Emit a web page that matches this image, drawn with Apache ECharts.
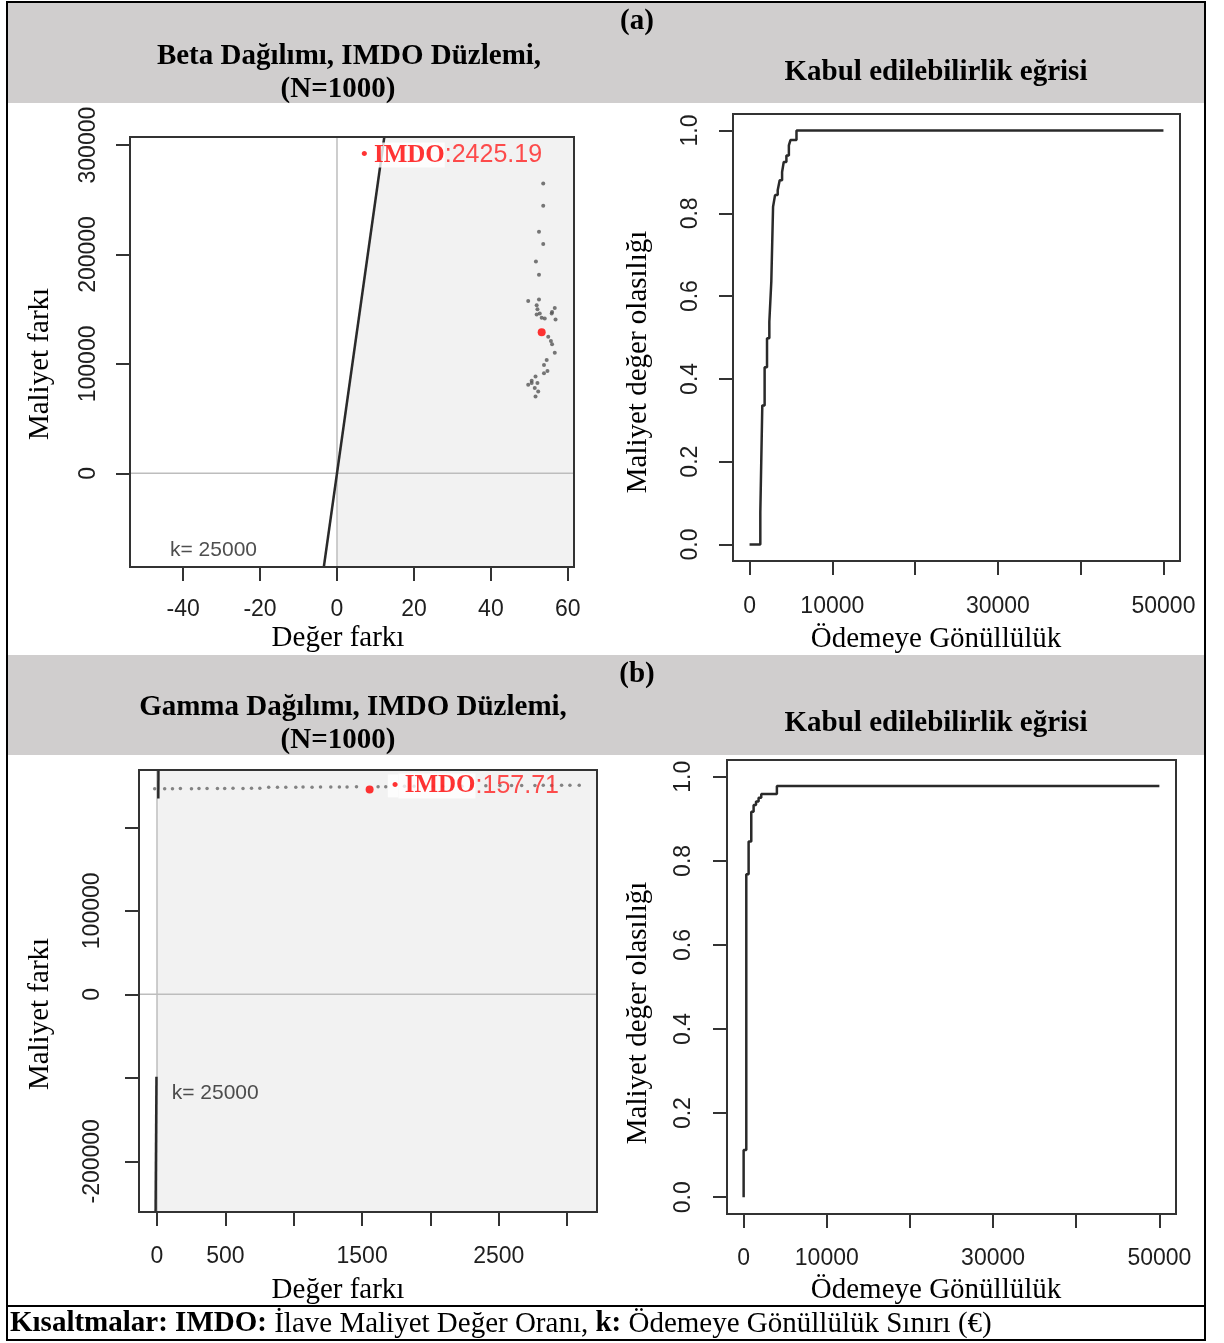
<!DOCTYPE html>
<html><head><meta charset="utf-8">
<script src="https://cdn.jsdelivr.net/npm/echarts@6/dist/echarts.min.js"></script>
<style>html,body{margin:0;padding:0;background:#fff}#c{width:1224px;height:1343px}</style>
</head><body><div id="c"></div>
<script>
const K = 25000; // willingness-to-pay threshold

// (a) Beta distribution, ICER plane: incremental effect / cost
const betaDeltaE = [53.6,53.6,52.5,53.6,51.7,52.5,49.7,52.5,51.9,52.1,52.7,51.9,53.2,54.0,56.6,55.9,56.8,55.8,54.9,55.6,55.9,56.6,54.5,53.8,54.7,53.8,51.6,50.6,49.7,52.1,51.4,52.3,51.6,50.6];
const betaDeltaC = [264800,244500,220900,209700,193600,181500,157500,158800,153600,150000,146100,145200,142100,141500,151200,147500,140600,146100,124800,120900,117900,110300,103600,99100,93600,91500,88500,82500,80900,82500,77900,74800,70300,84500];
const betaMean = [53.2, 129020];
const betaIcerText = '2425.19';

// (a) CEAC
const ceacBetaWtp  = [0,1300,1540,1820,2110,2390,2630,2840,3080,3400,3640,3930,4130,4450,4750,4940,5670,50000];
const ceacBetaProb = [0,0.078,0.336,0.428,0.498,0.538,0.636,0.816,0.844,0.856,0.880,0.900,0.924,0.940,0.964,0.977,1.0,1.0];

// (b) Gamma distribution, ICER plane
const gammaDeltaE = [-17,56,113,171,252,307,366,442,495,556,629,691,752,817,881,942,1015,1068,1134,1196,1271,1334,1390,1459,1617,1673,1810,1880,1950,2020,2090,2160,2230,2300,2405,2508,2593,2667,2764,2825,2886,2959,3020,3088];
const gammaDeltaC = [246000,246200,246100,246300,246200,246400,246300,246500,246400,246600,246500,246700,246600,247800,247900,248000,247900,248100,248000,248200,248100,248300,248200,248400,248500,248600,249000,249100,249000,249200,249100,249300,249200,249400,249800,250000,249900,250100,250000,250200,250100,250300,250200,250400];
const gammaMean = [1555, 245240];
const gammaIcerText = '157.71';

// (b) CEAC
const ceacGammaWtp  = [0,0,320,600,920,1200,1490,1800,2120,4000,50000];
const ceacGammaProb = [0,0.112,0.768,0.846,0.917,0.933,0.941,0.950,0.959,0.978,0.978];

// tick values
const ticksBetaX = [-40,-20,0,20,40,60];
const ticksBetaY = [0,100000,200000,300000];
const ticksCeacX = [0,10000,20000,30000,40000,50000];
const labelsCeacX = [0,10000,30000,50000];
const ticksCeacY = [0,0.2,0.4,0.6,0.8,1.0];
const ticksGammaX = [0,500,1000,1500,2000,2500,3000];
const labelsGammaX = [0,500,1500,2500];
const ticksGammaY = [-200000,-100000,0,100000,200000];
const labelsGammaY = [-200000,0,100000];

// axis extents (plot box)
const rA = {xmin:-53.8, xmax:61.6, ymin:-85650, ymax:307400};
const rB = {xmin:-2000, xmax:52000, ymin:-0.04, ymax:1.04};
const rC = {xmin:-131.7, xmax:3218, ymin:-260700, ymax:268600};
const rD = {xmin:-2000, xmax:52000, ymin:-0.04, ymax:1.04};

const SANS = "'Liberation Sans', Arial, sans-serif";
const SERIF = "'Liberation Serif', 'Times New Roman', serif";
const TICK = '#333';

const chart = echarts.init(document.getElementById('c'), null, {renderer:'canvas'});

function xAx(idx, r, ticks, labels, margin, fmt) {
  return {type:'value', gridIndex:idx, min:r.xmin, max:r.xmax, scale:false,
    axisLine:{show:false, onZero:false}, splitLine:{show:false},
    axisTick:{show:true, inside:false, length:14, customValues:ticks, lineStyle:{color:TICK, width:2}},
    axisLabel:{show:true, customValues:labels, margin:margin, formatter:fmt,
      fontFamily:SANS, fontSize:23, color:'#1e1e1e'}};
}
function yAx(idx, r, ticks, labels, margin, fmt) {
  return {type:'value', gridIndex:idx, min:r.ymin, max:r.ymax, scale:false,
    axisLine:{show:false, onZero:false}, splitLine:{show:false},
    axisTick:{show:true, inside:false, length:14, customValues:ticks, lineStyle:{color:TICK, width:2}},
    axisLabel:{show:true, customValues:labels, margin:margin, formatter:fmt, rotate:90,
      fontFamily:SANS, fontSize:23, color:'#1e1e1e'}};
}
const plain = v => String(Math.round(v));
const oneDec = v => v.toFixed(1);

function region(idx, r) {
  const pts = [[0, r.ymin],[0,0],[r.ymax/K, r.ymax],[r.xmax, r.ymax],[r.xmax, r.ymin]];
  return {type:'custom', xAxisIndex:idx, yAxisIndex:idx, z:1, silent:true, data:[[0,0]],
    renderItem:(p, api) => ({type:'polygon', shape:{points:pts.map(q => api.coord(q))}, style:{fill:'#f2f2f2'}})};
}
function seg(idx, pts, color, width, z) {
  return {type:'line', xAxisIndex:idx, yAxisIndex:idx, data:pts, symbol:'none', silent:true, z:z,
    lineStyle:{color:color, width:width}};
}
function icerLabel(idx, anchor, txt) {
  return {type:'scatter', xAxisIndex:idx, yAxisIndex:idx, data:[anchor], symbolSize:0, z:8, silent:true,
    label:{show:true, position:[0,0], align:'left', verticalAlign:'middle',
      formatter:'{a|•}{b| IMDO}{c|:' + txt + '}',
      rich:{
        a:{color:'#ff0000', fontSize:19, fontFamily:SANS, backgroundColor:'#fff', padding:[2,0,2,4], lineHeight:24},
        b:{color:'#ff0000', fontSize:25, fontWeight:'bold', fontFamily:SERIF, backgroundColor:'#fff', lineHeight:24},
        c:{color:'#ff2020', fontSize:25, fontFamily:SANS, lineHeight:24}
      }}};
}
function kLabel(idx, anchor) {
  return {type:'scatter', xAxisIndex:idx, yAxisIndex:idx, data:[anchor], symbolSize:0, z:8, silent:true,
    label:{show:true, position:[0,0], align:'left', verticalAlign:'middle',
      formatter:'k= ' + K, fontFamily:SANS, fontSize:21, color:'#222'}};
}
function txt(x, y, s, size, bold, rot) {
  return {type:'text', x:x, y:y, rotation: rot ? Math.PI/2 : 0, z:20,
    style:{text:s, fontFamily:SERIF, fontSize:size, fontWeight: bold ? 'bold' : 'normal', fill:'#000',
      align:'center', verticalAlign:'middle'}};
}

const option = {
  animation:false,
  backgroundColor:'#fff',
  grid:[
    {left:130, top:137, width:444, height:430, show:true, borderColor:'#333', borderWidth:2, backgroundColor:'transparent', z:10},
    {left:733, top:114, width:447, height:447, show:true, borderColor:'#333', borderWidth:2, backgroundColor:'transparent', z:10},
    {left:139, top:770, width:458, height:442, show:true, borderColor:'#333', borderWidth:2, backgroundColor:'transparent', z:10},
    {left:727, top:760, width:449, height:454, show:true, borderColor:'#333', borderWidth:2, backgroundColor:'transparent', z:10}
  ],
  xAxis:[
    xAx(0, rA, ticksBetaX, ticksBetaX, 31, plain),
    xAx(1, rB, ticksCeacX, labelsCeacX, 34, plain),
    xAx(2, rC, ticksGammaX, labelsGammaX, 33, plain),
    xAx(3, rD, ticksCeacX, labelsCeacX, 33, plain)
  ],
  yAxis:[
    yAx(0, rA, ticksBetaY, ticksBetaY, 30, plain),
    yAx(1, rB, ticksCeacY, ticksCeacY, 31, oneDec),
    yAx(2, rC, ticksGammaY, labelsGammaY, 35, plain),
    yAx(3, rD, ticksCeacY, ticksCeacY, 32, oneDec)
  ],
  series:[
    // (a) ICER plane
    region(0, rA),
    seg(0, [[0, rA.ymin],[0, rA.ymax]], '#bdbdbd', 1.5, 2),
    seg(0, [[rA.xmin, 0],[rA.xmax, 0]], '#bdbdbd', 1.5, 2),
    seg(0, [[rA.ymin/K, rA.ymin],[rA.ymax/K, rA.ymax]], '#2a2a2a', 2.5, 3),
    {type:'scatter', xAxisIndex:0, yAxisIndex:0, data:betaDeltaE.map((e,i)=>[e, betaDeltaC[i]]), symbolSize:4, itemStyle:{color:'#555'}, z:4, silent:true},
    {type:'scatter', xAxisIndex:0, yAxisIndex:0, data:[betaMean], symbolSize:8, itemStyle:{color:'#ff0000'}, z:5, silent:true},
    icerLabel(0, [5.2, 290900], betaIcerText),
    kLabel(0, [-43.4, -70000]),
    // (a) CEAC
    {type:'line', xAxisIndex:1, yAxisIndex:1, step:'end', data:ceacBetaWtp.map((w,i)=>[w, ceacBetaProb[i]]), symbol:'none', lineStyle:{color:'#2a2a2a', width:2.5}, z:3, silent:true},
    // (b) ICER plane
    region(2, rC),
    seg(2, [[0, rC.ymin],[0, rC.ymax]], '#bdbdbd', 1.5, 2),
    seg(2, [[rC.xmin, 0],[rC.xmax, 0]], '#bdbdbd', 1.5, 2),
    seg(2, [[rC.ymin/K, rC.ymin],[-98700/K, -98700]], '#2a2a2a', 2.5, 3),
    seg(2, [[234600/K, 234600],[rC.ymax/K, rC.ymax]], '#2a2a2a', 2.5, 3),
    {type:'scatter', xAxisIndex:2, yAxisIndex:2, data:gammaDeltaE.map((e,i)=>[e, gammaDeltaC[i]]), symbolSize:3.5, itemStyle:{color:'#666'}, z:4, silent:true},
    {type:'scatter', xAxisIndex:2, yAxisIndex:2, data:[gammaMean], symbolSize:8, itemStyle:{color:'#ff0000'}, z:5, silent:true},
    icerLabel(2, [1688, 249500], gammaIcerText),
    kLabel(2, [107.6, -118200]),
    // (b) CEAC
    {type:'line', xAxisIndex:3, yAxisIndex:3, step:'end', data:ceacGammaWtp.map((w,i)=>[w, ceacGammaProb[i]]), symbol:'none', lineStyle:{color:'#2a2a2a', width:2.5}, z:3, silent:true}
  ],
  graphic:[
    {type:'rect', shape:{x:8, y:3, width:1196, height:100}, style:{fill:'#d0cece'}, z:-10, silent:true},
    {type:'rect', shape:{x:8, y:655, width:1196, height:100}, style:{fill:'#d0cece'}, z:-10, silent:true},
    {type:'rect', shape:{x:7, y:2, width:1198, height:1338}, style:{fill:'none', stroke:'#000', lineWidth:2}, z:30, silent:true},
    {type:'line', shape:{x1:7, y1:1306, x2:1205, y2:1306}, style:{stroke:'#000', lineWidth:2}, z:30, silent:true},
    txt(637, 22, '(a)', 29, true),
    txt(349, 57, 'Beta Dağılımı, IMDO Düzlemi,', 29, true),
    txt(338, 90, '(N=1000)', 29, true),
    txt(936, 73, 'Kabul edilebilirlik eğrisi', 29, true),
    txt(40, 364, 'Maliyet farkı', 29, false, true),
    txt(338, 638, 'Değer farkı', 29, false),
    txt(638, 362, 'Maliyet değer olasılığı', 29, false, true),
    txt(936, 639, 'Ödemeye Gönüllülük', 29, false),
    txt(637, 675, '(b)', 29, true),
    txt(353, 708, 'Gamma Dağılımı, IMDO Düzlemi,', 29, true),
    txt(338, 741, '(N=1000)', 29, true),
    txt(936, 724, 'Kabul edilebilirlik eğrisi', 29, true),
    txt(40, 1014, 'Maliyet farkı', 29, false, true),
    txt(638, 1013, 'Maliyet değer olasılığı', 29, false, true),
    txt(338, 1290, 'Değer farkı', 29, false),
    txt(936, 1290, 'Ödemeye Gönüllülük', 29, false),
    {type:'text', x:10, y:1324, z:20, style:{
      text:'{b|Kısaltmalar: IMDO:}{r| İlave Maliyet Değer Oranı, }{b|k:}{r| Ödemeye Gönüllülük Sınırı (€)}',
      align:'left', verticalAlign:'middle', fill:'#000',
      rich:{b:{fontFamily:SERIF, fontSize:29, fontWeight:'bold', fill:'#000'}, r:{fontFamily:SERIF, fontSize:29, fill:'#000'}}}}
  ]
};
chart.setOption(option);
</script></body></html>
